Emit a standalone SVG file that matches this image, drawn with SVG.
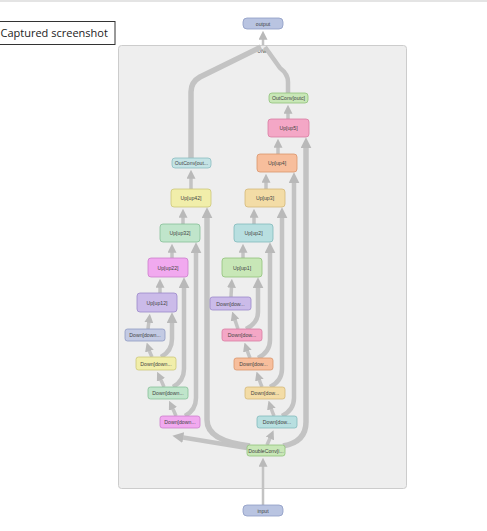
<svg xmlns="http://www.w3.org/2000/svg" width="487" height="531" viewBox="0 0 487 531">
  <style>
    .bg { fill: #ffffff; }
    .topbar { stroke: #e4e4e4; stroke-width: 2; }
    .caption-box { fill: #ffffff; stroke: #333333; stroke-width: 1; }
    .caption { font-family: "Open Sans", "Liberation Sans", sans-serif; font-size: 11px; fill: #222222; }
    .group-box { fill: #eeeeee; stroke: #cccccc; stroke-width: 1; }
    .group-label { font-family: "Liberation Sans", sans-serif; font-size: 5px; fill: #444444; text-anchor: middle; }
    .node rect { stroke-width: 0.8; }
    .node text { font-family: "Liberation Sans", sans-serif; font-size: 5.2px; fill: #444444; text-anchor: middle; dominant-baseline: central; }
    .edge { fill: none; stroke: #c3c3c3; stroke-linecap: butt; stroke-linejoin: round; }
    .w2 { stroke-width: 2.5; }
    .w3 { stroke-width: 3.5; }
    .w5 { stroke-width: 4.5; }
    .w6 { stroke-width: 5.5; }
    .c-io { fill: #b9c4e1; stroke: #8e9cc4; }
    .c-green { fill: #c8e7b7; stroke: #8fc27a; }
    .c-pink { fill: #f4a7c6; stroke: #d87ca2; }
    .c-orange { fill: #f7be9c; stroke: #d9946b; }
    .c-yellow { fill: #f3dca6; stroke: #d3b878; }
    .c-teal { fill: #b8dfe0; stroke: #80b9bb; }
    .c-purple { fill: #cbbbe9; stroke: #9b88c9; }
    .c-magenta { fill: #f1a9ef; stroke: #cc7dcb; }
    .c-mint { fill: #c0e5cb; stroke: #85bf97; }
    .c-lemon { fill: #f1eeaa; stroke: #cdc778; }
    .c-slate { fill: #c3cae3; stroke: #8e99c2; }
    .c-ice { fill: #c4e3e5; stroke: #8bbcc0; }
  </style>
  <defs>
    <marker id="arr" viewBox="0 0 10 10" refX="3" refY="5" markerWidth="9" markerHeight="9" markerUnits="userSpaceOnUse" orient="auto">
      <path d="M0,0 L10,5 L0,10 z" fill="#b9b9b9"/>
    </marker>
    <marker id="arrL" viewBox="0 0 10 10" refX="3" refY="5" markerWidth="11" markerHeight="11" markerUnits="userSpaceOnUse" orient="auto">
      <path d="M0,0 L10,5 L0,10 z" fill="#b9b9b9"/>
    </marker>
  </defs>

  <rect class="bg" x="0" y="0" width="487" height="531"/>
  <line class="topbar" x1="0" y1="1" x2="487" y2="1"/>

  <!-- caption box -->
  <rect class="caption-box" x="-2" y="21.5" width="117" height="23"/>
  <text class="caption" x="0.5" y="37">Captured screenshot</text>

  <!-- UNet group -->
  <rect class="group-box" x="118.5" y="45.5" width="288" height="443" rx="3"/>
  <text class="group-label" x="263" y="53">UNet</text>

  <g id="connectors">
    <!-- outer links -->
    <path class="edge w2" d="M263 505 L263 464" marker-end="url(#arr)"/>
    <path class="edge w2" d="M263 45 L263 37" marker-end="url(#arr)"/>
    <path class="edge w5" d="M288 93 L288 82 Q288 74 280 68 L265 47"/>
    <path class="edge w6" d="M191 158 L191 92 Q191 82 200 77 L261 47"/>

    <!-- right encoder chain -->
    <path class="edge w3" d="M267 445 L271 436" marker-end="url(#arr)"/>
    <path class="edge w3" d="M274 416 Q272 411 270.5 406.5" marker-end="url(#arr)"/>
    <path class="edge w3" d="M262 387 Q260 382 258.5 377.5" marker-end="url(#arr)"/>
    <path class="edge w3" d="M250 358 Q248 353 246.5 348.5" marker-end="url(#arr)"/>
    <path class="edge w3" d="M238 329 Q236 323 234.2 317.6" marker-end="url(#arr)"/>
    <path class="edge w3" d="M231 297 L231.6 285" marker-end="url(#arr)"/>

    <!-- right decoder chain -->
    <path class="edge w3" d="M243 258 L243 250" marker-end="url(#arr)"/>
    <path class="edge w3" d="M254 224 L254 215" marker-end="url(#arr)"/>
    <path class="edge w3" d="M266 189 L266 180" marker-end="url(#arr)"/>
    <path class="edge w3" d="M278 154 L278 145" marker-end="url(#arr)"/>
    <path class="edge w3" d="M288 119 L288 111" marker-end="url(#arr)"/>

    <!-- right skip connections -->
    <path class="edge w5" d="M246 329 Q258 323 258 312 L258 285" marker-end="url(#arrL)"/>
    <path class="edge w5" d="M258 358 Q270 352 270 340 L270 250" marker-end="url(#arrL)"/>
    <path class="edge w5" d="M270 387 Q282 381 282 369 L282 215" marker-end="url(#arrL)"/>
    <path class="edge w5" d="M282 416 Q294 410 294 398 L294 180" marker-end="url(#arrL)"/>
    <path class="edge w6" d="M283 446 Q306 442 306 422 L306 145" marker-end="url(#arrL)"/>

    <!-- left branch from the input block -->
    <path class="edge w5" d="M247 448 L180 437" marker-end="url(#arrL)"/>
    <path class="edge w6" d="M250 446 Q207 441 207 420 L207 215" marker-end="url(#arrL)"/>

    <!-- left encoder chain -->
    <path class="edge w3" d="M176 416 Q174 411 171.8 406.4" marker-end="url(#arr)"/>
    <path class="edge w3" d="M164 387 Q162 382 159.8 377.4" marker-end="url(#arr)"/>
    <path class="edge w3" d="M152 357 Q150 353 148.6 348.5" marker-end="url(#arr)"/>
    <path class="edge w3" d="M148 329 L149.1 320" marker-end="url(#arr)"/>

    <!-- left decoder chain -->
    <path class="edge w3" d="M160 293 L160 285" marker-end="url(#arr)"/>
    <path class="edge w3" d="M172 258 L172 250" marker-end="url(#arr)"/>
    <path class="edge w3" d="M183 224 L183 215" marker-end="url(#arr)"/>
    <path class="edge w3" d="M191 189 L191 176" marker-end="url(#arr)"/>

    <!-- left skip connections -->
    <path class="edge w5" d="M185 416 Q196 410 196 398 L196 250" marker-end="url(#arrL)"/>
    <path class="edge w5" d="M173 387 Q184 381 184 369 L184 285" marker-end="url(#arrL)"/>
    <path class="edge w5" d="M161 357 Q172 351 172 339 L172 320" marker-end="url(#arrL)"/>
  </g>

  <!-- outer nodes -->
  <g id="output" class="node"><rect class="c-io" x="243" y="18" width="40" height="11" rx="4"/><text x="263" y="23.5">output</text></g>
  <g id="input" class="node"><rect class="c-io" x="243" y="505" width="40" height="11" rx="4"/><text x="263" y="510.5">input</text></g>

  <!-- right path -->
  <g id="inc" class="node"><rect class="c-green" x="247" y="445" width="38" height="11" rx="2.5"/><text x="266" y="450.5">DoubleConv[i...</text></g>
  <g id="down1" class="node"><rect class="c-teal" x="257" y="416" width="40" height="12" rx="2.5"/><text x="277" y="422">Down[dow...</text></g>
  <g id="down2" class="node"><rect class="c-yellow" x="245" y="387" width="40" height="12" rx="2.5"/><text x="265" y="393">Down[dow...</text></g>
  <g id="down3" class="node"><rect class="c-orange" x="234" y="358" width="39" height="12" rx="2.5"/><text x="253.5" y="364">Down[dow...</text></g>
  <g id="down4" class="node"><rect class="c-pink" x="222" y="329" width="40" height="12" rx="2.5"/><text x="242" y="335">Down[dow...</text></g>
  <g id="down5" class="node"><rect class="c-purple" x="210" y="297" width="41" height="13" rx="2.5"/><text x="230.5" y="303.5">Down[dow...</text></g>
  <g id="up1" class="node"><rect class="c-green" x="222" y="258" width="40" height="19" rx="3"/><text x="242" y="267.5">Up[up1]</text></g>
  <g id="up2" class="node"><rect class="c-teal" x="234" y="224" width="39" height="18" rx="3"/><text x="253.5" y="233">Up[up2]</text></g>
  <g id="up3" class="node"><rect class="c-yellow" x="245" y="189" width="40" height="18" rx="3"/><text x="265" y="198">Up[up3]</text></g>
  <g id="up4" class="node"><rect class="c-orange" x="257" y="154" width="40" height="18" rx="3"/><text x="277" y="163">Up[up4]</text></g>
  <g id="up5" class="node"><rect class="c-pink" x="268" y="119" width="41" height="18" rx="3"/><text x="288.5" y="128">Up[up5]</text></g>
  <g id="outc" class="node"><rect class="c-green" x="269" y="93" width="39" height="10" rx="3"/><text x="288.5" y="98">OutConv[outc]</text></g>

  <!-- left path -->
  <g id="down12" class="node"><rect class="c-magenta" x="160" y="416" width="40" height="12" rx="2.5"/><text x="180" y="422">Down[down...</text></g>
  <g id="down22" class="node"><rect class="c-mint" x="148" y="387" width="40" height="12" rx="2.5"/><text x="168" y="393">Down[down...</text></g>
  <g id="down32" class="node"><rect class="c-lemon" x="136" y="357" width="40" height="13" rx="2.5"/><text x="156" y="363.5">Down[down...</text></g>
  <g id="down42" class="node"><rect class="c-slate" x="125" y="329" width="40" height="12" rx="2.5"/><text x="145" y="335">Down[down...</text></g>
  <g id="up12" class="node"><rect class="c-purple" x="137" y="293" width="40" height="19" rx="3"/><text x="157" y="302.5">Up[up12]</text></g>
  <g id="up22" class="node"><rect class="c-magenta" x="148" y="258" width="40" height="19" rx="3"/><text x="168" y="267.5">Up[up22]</text></g>
  <g id="up32" class="node"><rect class="c-mint" x="160" y="224" width="40" height="18" rx="3"/><text x="180" y="233">Up[up32]</text></g>
  <g id="up42" class="node"><rect class="c-lemon" x="171" y="189" width="40" height="18" rx="3"/><text x="191" y="198">Up[up42]</text></g>
  <g id="outc2" class="node"><rect class="c-ice" x="172" y="158" width="39" height="10" rx="3"/><text x="191.5" y="163">OutConv[out...</text></g>
</svg>
